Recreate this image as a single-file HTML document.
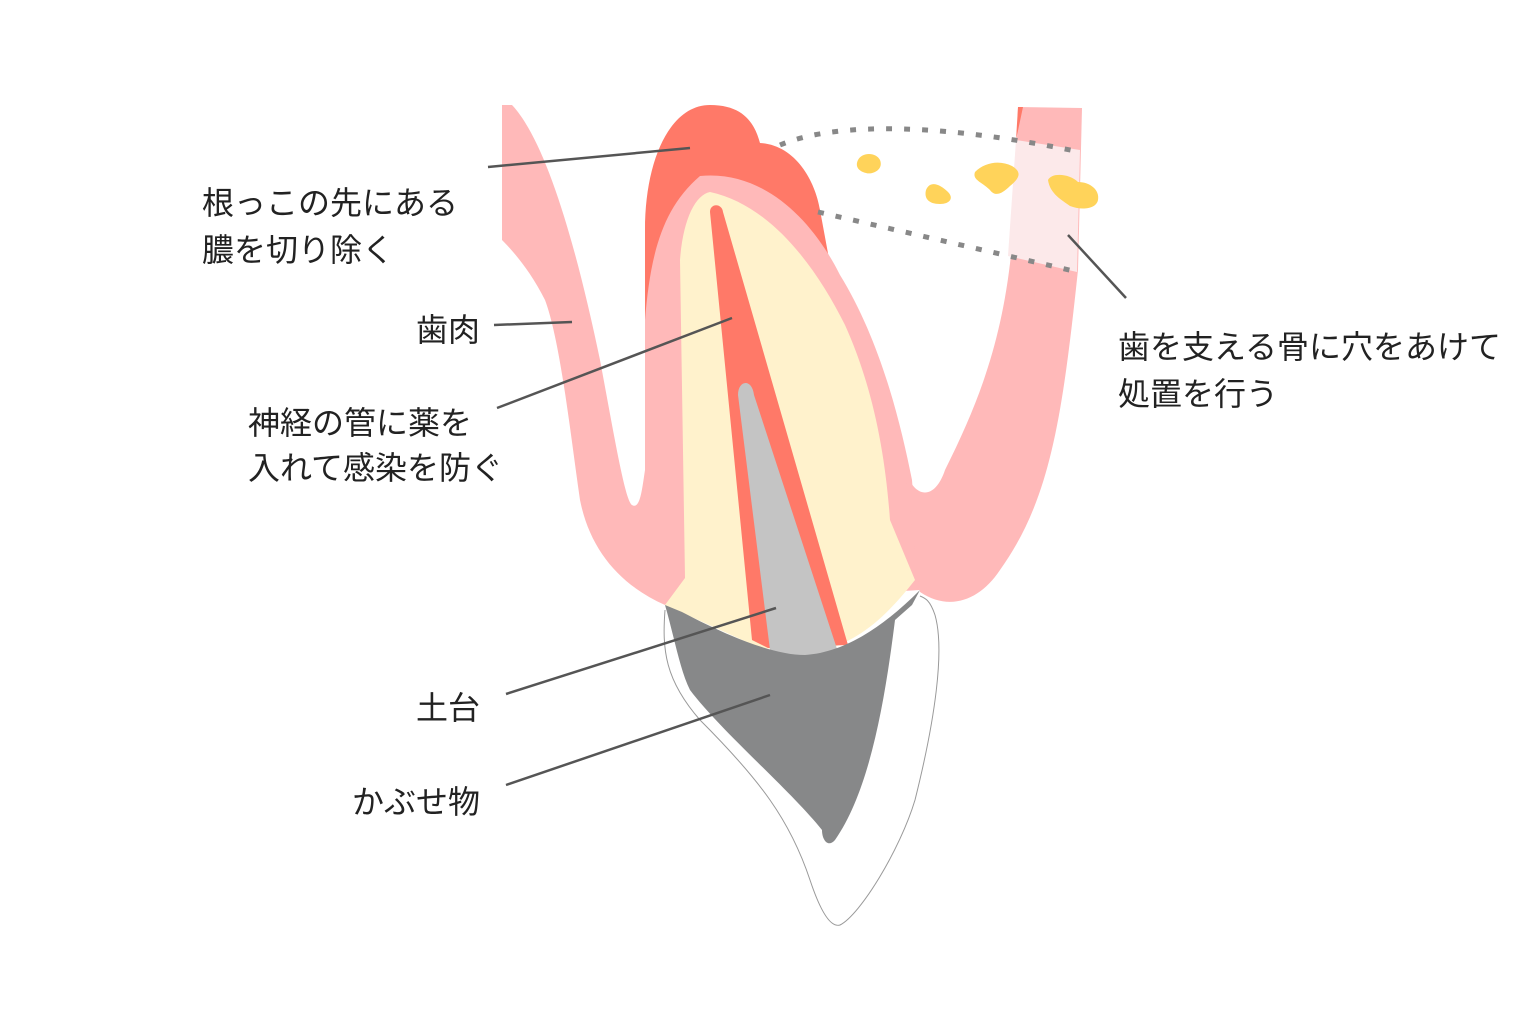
<!DOCTYPE html>
<html><head><meta charset="utf-8"><style>
html,body{margin:0;padding:0;background:#fff;width:1536px;height:1024px;overflow:hidden}
text{font-family:"Liberation Sans","Noto Sans CJK JP",sans-serif;font-size:32px;fill:#222}
</style></head><body>
<svg width="1536" height="1024" viewBox="0 0 1536 1024">
<path d="M665,610 C662,650 665,680 700,720 C760,780 790,820 810,880 C820,910 830,928 840,925 C860,915 900,850 915,800 C935,720 945,650 935,615 C930,600 925,598 920,596" fill="none" stroke="#999" stroke-width="1"/>
<path d="M645,540 L645,230 C645,160 670,105 710,105 C745,105 755,125 760,143 C795,145 815,180 820,210 L832,275 L832,540 Z" fill="#ff7968"/>
<path d="M502,105 L512,105 C545,140 575,240 600,360 C615,440 625,500 632,505 C640,510 642,490 645,470 L645,320 C650,260 660,210 700,176 C760,170 810,215 840,275 C880,340 900,420 912,480 L920,590 L665,605 C620,585 590,550 580,500 C570,430 560,340 545,300 C530,270 512,250 502,240 Z" fill="#ffb9b9"/>
<path d="M905,470 C915,500 935,500 945,470 C985,390 1010,320 1015,200 L1018,107 L1082,108 L1078,270 C1062,420 1050,500 1000,570 C980,600 950,612 920,592 Z" fill="#ffb9b9"/>
<path d="M1018,107 L1023,107 L1016,140 Z" fill="#ff7968"/>
<path d="M1016,140 L1080,150 L1077,272 L1008,256 Z" fill="#fce9ea"/>
<path d="M665,605 L685,578 L680,260 C683,220 695,195 710,192 C770,205 815,265 845,325 C872,385 885,450 890,520 L915,580 C885,618 860,640 820,652 L760,648 Z" fill="#fff2cc"/>
<path d="M710,212 C710,203 722,203 723,212 L848,645 L768,648 L752,640 Z" fill="#ff7968"/>
<path d="M738,395 C738,380 752,378 754,395 L838,652 C815,660 790,655 770,650 Z" fill="#c4c4c4"/>
<path d="M665,605 L682,612 C720,632 770,655 805,655 C850,652 890,620 920,590 L912,605 L895,620 C885,700 870,790 835,840 C828,848 822,840 822,830 C790,790 720,730 690,690 C680,670 675,640 665,605 Z" fill="#878889"/>
<path d="M780,145 C840,120 950,125 1080,152" fill="none" stroke="#888" stroke-width="5" stroke-dasharray="6,12"/>
<path d="M818,212 L1078,272" fill="none" stroke="#888" stroke-width="5" stroke-dasharray="6,12"/>
<g fill="#ffd35a">
<path d="M858,160 C862,152 876,152 880,160 C884,170 872,175 866,173 C858,171 855,166 858,160Z"/>
<path d="M926,190 C930,180 940,184 948,192 C954,198 950,204 940,204 C928,204 924,198 926,190Z"/>
<path d="M975,172 C985,162 1000,160 1012,166 C1022,172 1020,178 1010,186 C1002,194 995,197 990,190 C982,182 972,180 975,172Z"/>
<path d="M1048,180 C1052,172 1070,174 1078,182 C1090,182 1100,190 1098,200 C1096,210 1080,210 1070,206 C1062,200 1050,194 1048,180Z"/>
</g>
<g stroke="#555" stroke-width="2.5">
<line x1="488" y1="167" x2="690" y2="148"/>
<line x1="494" y1="325" x2="572" y2="322"/>
<line x1="497" y1="408" x2="732" y2="318"/>
<line x1="506" y1="694" x2="776" y2="608"/>
<line x1="506" y1="785" x2="770" y2="695"/>
<line x1="1068" y1="235" x2="1126" y2="298"/>
</g>
<text x="202" y="214">根っこの先にある</text>
<text x="202" y="261">膿を切り除く</text>
<text x="416" y="341">歯肉</text>
<text x="248" y="434">神経の管に薬を</text>
<text x="248" y="479">入れて感染を防ぐ</text>
<text x="416" y="719">土台</text>
<text x="352" y="813">かぶせ物</text>
<text x="1118" y="358">歯を支える骨に穴をあけて</text>
<text x="1118" y="405">処置を行う</text>
</svg>
</body></html>
